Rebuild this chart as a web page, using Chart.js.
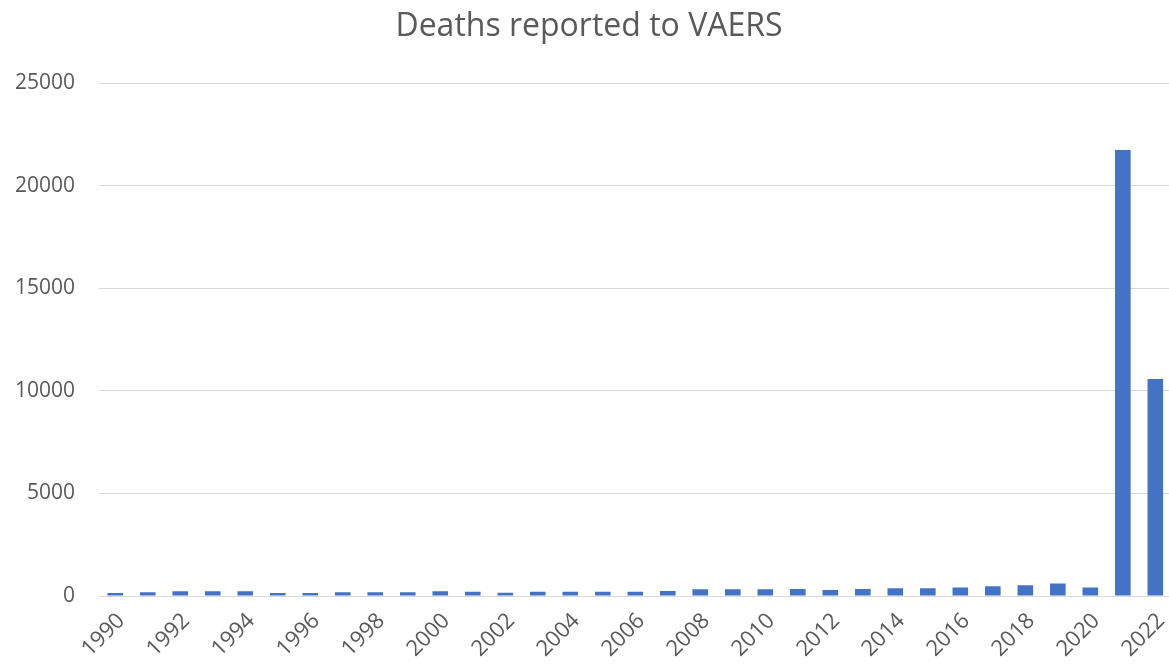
<!DOCTYPE html>
<html lang="en">
<head>
    <meta charset="UTF-8">
    <title>Deaths reported to VAERS</title>
    <script src="https://cdn.jsdelivr.net/npm/chart.js"></script>
    <style>
        html, body {
            margin: 0;
            padding: 0;
            background: #ffffff;
            overflow: hidden;
        }
        .chart-box {
            position: absolute;
            left: 0;
            top: 0;
            width: 1178px;
            height: 666px;
        }
    </style>
</head>
<body>
    <div class="chart-box">
        <canvas id="vaersChart"></canvas>
    </div>

    <script>
        // Years shown on the x axis
        const years = [
            '1990', '1991', '1992', '1993', '1994', '1995', '1996', '1997', '1998', '1999',
            '2000', '2001', '2002', '2003', '2004', '2005', '2006', '2007', '2008', '2009',
            '2010', '2011', '2012', '2013', '2014', '2015', '2016', '2017', '2018', '2019',
            '2020', '2021', '2022'
        ];

        // Deaths reported per year
        const deaths = [
            146, 180, 227, 227, 227, 146, 146, 180, 180, 180,
            227, 210, 160, 210, 210, 210, 210, 245, 325, 325,
            325, 340, 290, 340, 375, 375, 420, 470, 520, 615,
            420, 21750, 10580
        ];

        // y axis ticks
        const yMax = 25000;
        const yStep = 5000;

        const textGrey = '#595959';
        const gridGrey = '#d9d9d9';

        const config = {
            type: 'bar',
            data: {
                labels: years,
                datasets: [{
                    label: 'Deaths',
                    data: deaths,
                    backgroundColor: '#4472C4',
                    borderWidth: 0,
                    barPercentage: 0.48,
                    categoryPercentage: 1.0
                }]
            },
            options: {
                responsive: true,
                maintainAspectRatio: false,
                animation: false,
                layout: {
                    padding: { left: 0, right: 0, top: 0, bottom: 0 }
                },
                plugins: {
                    legend: { display: false },
                    tooltip: { enabled: false },
                    title: {
                        display: true,
                        text: 'Deaths reported to VAERS',
                        color: textGrey,
                        font: { family: 'Open Sans', size: 32, weight: 'normal' },
                        padding: { top: 8, bottom: 37 }
                    }
                },
                scales: {
                    x: {
                        grid: { display: false },
                        border: { display: false },
                        ticks: {
                            autoSkip: false,
                            maxRotation: 45,
                            minRotation: 45,
                            color: textGrey,
                            font: { family: 'Open Sans', size: 22 },
                            padding: 4,
                            labelOffset: 6,
                            callback: function(value, index) {
                                return index % 2 === 0 ? years[index] : '';
                            }
                        },
                        afterFit: function(scale) {
                            scale.height = 70;
                        }
                    },
                    y: {
                        min: 0,
                        max: yMax,
                        grid: {
                            color: gridGrey,
                            lineWidth: 1,
                            drawTicks: false
                        },
                        border: { display: false },
                        ticks: {
                            stepSize: yStep,
                            color: textGrey,
                            font: { family: 'Open Sans', size: 21 },
                            padding: 24,
                            callback: function(value) {
                                return String(value);
                            }
                        },
                        afterFit: function(scale) {
                            scale.width = 99;
                        }
                    }
                }
            }
        };

        const vaersChart = new Chart(document.getElementById('vaersChart'), config);
    </script>
</body>
</html>
